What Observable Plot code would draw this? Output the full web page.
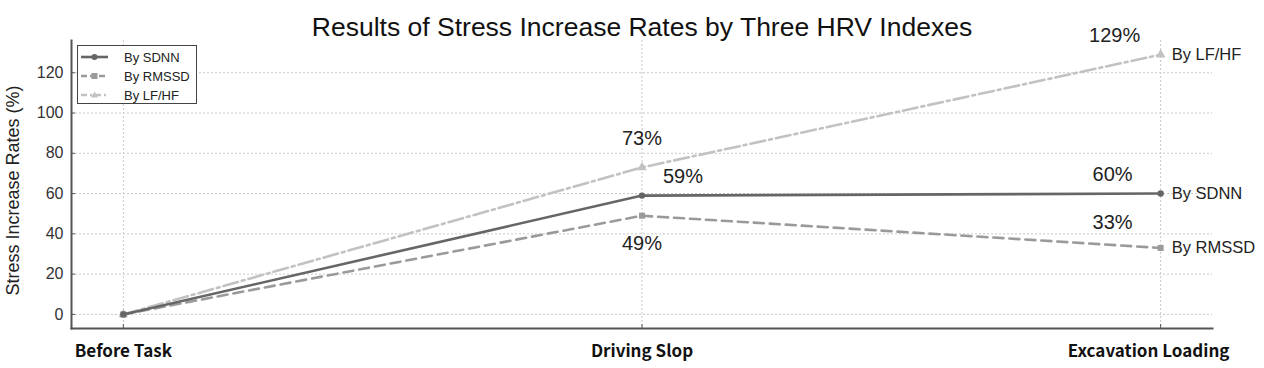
<!DOCTYPE html>
<html>
<head>
<meta charset="utf-8">
<script src="https://cdn.jsdelivr.net/npm/d3@7"></script>
<script src="https://cdn.jsdelivr.net/npm/@observablehq/plot@0.6"></script>
<style>
  html, body { margin: 0; padding: 0; background: #fff; }
  #wrap { position: relative; width: 1264px; height: 368px; font-family: "Liberation Sans", Arial, sans-serif; }
  #legend { position: absolute; left: 77px; top: 45px; width: 120px; height: 59px; border: 1.5px solid #444; background: #fff; box-sizing: border-box; }
  #legend .row { position: absolute; left: 0; height: 16px; display: flex; align-items: center; font-size: 13px; color: #222; }
  #legend svg { margin-left: 3px; margin-right: 16px; }
</style>
</head>
<body>
<div id="wrap"><div id="chart"></div><div id="legend"></div></div>
<script>
// ---- data ----
const stages = ["Before Task", "Driving Slop", "Excavation Loading"];
const seriesNames = ["By SDNN", "By RMSSD", "By LF/HF"];
const sdnn = [0, 59, 60];
const rmssd = [0, 49, 33];
const lfhf = [0, 73, 129];
const yTicks = [0, 20, 40, 60, 80, 100, 120];
const title = "Results of Stress Increase Rates by Three HRV Indexes";
const yLabel = "Stress Increase Rates (%)";

// ---- styles ----
const styles = {
  "By SDNN":  {stroke: "#666666", dash: null, symbol: "circle", r: 3.2},
  "By RMSSD": {stroke: "#9a9a9a", dash: "10,6", symbol: "square", r: 3.4},
  "By LF/HF": {stroke: "#c2c2c2", dash: "15,4,3,4", symbol: "triangle", r: 3.6}
};
const values = {"By SDNN": sdnn, "By RMSSD": rmssd, "By LF/HF": lfhf};

const rows = [];
for (const s of seriesNames) values[s].forEach((v, i) => rows.push({series: s, i, v}));

// percent annotations: [series, index, dx, dy]
const annots = [
  ["By LF/HF", 1, 0, -29],
  ["By SDNN", 1, 41, -19],
  ["By RMSSD", 1, 0, 28],
  ["By LF/HF", 2, -46, -19],
  ["By SDNN", 2, -48, -19],
  ["By RMSSD", 2, -48, -25]
].map(([s, i, dx, dy]) => ({series: s, i, v: values[s][i], dx, dy, label: values[s][i] + "%"}));

const xLabelStyle = {anchor: "bottom", tickSize: 0, tickPadding: 16, tickFormat: i => stages[i], fontSize: 17, fontWeight: "bold", fontFamily: "'Noto Sans CJK KR', 'Noto Sans', sans-serif", fill: "#111", label: null};

const marks = [
  Plot.gridY(yTicks, {stroke: "#c8c8c8", strokeOpacity: 1, strokeDasharray: "2,2", strokeWidth: 1}),
  Plot.gridX([0, 1, 2], {stroke: "#c8c8c8", strokeOpacity: 1, strokeDasharray: "2,2", strokeWidth: 1}),
  Plot.axisY(yTicks, {anchor: "left", tickSize: 0, tickPadding: 8, fontSize: 16, fill: "#333", label: null}),
  Plot.axisY(yTicks, {anchor: "left", tickSize: 4, dx: 4, text: null, stroke: "#555", label: null}),
  Plot.axisX([0, 1], xLabelStyle),
  Plot.axisX([2], {...xLabelStyle, dx: -12}),
  Plot.axisX([0, 1, 2], {anchor: "bottom", tickSize: 4, dy: -4, text: null, stroke: "#555", label: null}),
  Plot.frame({anchor: "left", stroke: "#555", strokeWidth: 2}),
  Plot.frame({anchor: "bottom", stroke: "#555", strokeWidth: 2})
];
for (const s of [...seriesNames].reverse()) {
  const st = styles[s];
  const d = rows.filter(r => r.series === s);
  marks.push(Plot.line(d, {x: "i", y: "v", stroke: st.stroke, strokeWidth: 2.6, strokeDasharray: st.dash}));
  marks.push(Plot.dot(d, {x: "i", y: "v", fill: st.stroke, symbol: st.symbol, r: st.r}));
  const last = d[d.length - 1];
  marks.push(Plot.text([last], {x: "i", y: "v", text: () => s, dx: 11, textAnchor: "start", fontSize: 16.5, fill: "#222"}));
}
for (const a of annots) {
  marks.push(Plot.text([a], {x: "i", y: "v", text: "label", dx: a.dx, dy: a.dy, fontSize: 20, fill: "#222"}));
}
marks.push(Plot.text([title], {frameAnchor: "top", dy: -23, fontSize: 26.5, fill: "#111", text: d => d}));
marks.push(Plot.text([yLabel], {frameAnchor: "left", textAnchor: "middle", rotate: -90, dx: -58, dy: 6, fontSize: 18, fill: "#222", text: d => d}));

const chart = Plot.plot({
  width: 1264,
  height: 368,
  marginLeft: 71,
  marginRight: 52,
  marginTop: 40,
  marginBottom: 40,
  style: {fontFamily: "'Liberation Sans', Arial, sans-serif", background: "#fff", overflow: "visible"},
  x: {type: "linear", domain: [-0.1, 2.1]},
  y: {domain: [-7, 136]},
  marks
});
document.getElementById("chart").appendChild(chart);

// legend
const legend = document.getElementById("legend");
seriesNames.forEach((s, k) => {
  const st = styles[s];
  const row = document.createElement("div");
  row.className = "row";
  row.style.top = (3 + k * 19) + "px";
  const w = 27, h = 12, cy = 6;
  let marker = "";
  if (st.symbol === "circle") marker = `<circle cx="${w/2}" cy="${cy}" r="3" fill="${st.stroke}"/>`;
  else if (st.symbol === "square") marker = `<rect x="${w/2-3}" y="${cy-3}" width="6" height="6" fill="${st.stroke}"/>`;
  else marker = `<path d="M${w/2},${cy-3.5} L${w/2+3.5},${cy+2.5} L${w/2-3.5},${cy+2.5} Z" fill="${st.stroke}"/>`;
  row.innerHTML = `<svg width="${w}" height="${h}"><line x1="0" x2="${w}" y1="${cy}" y2="${cy}" stroke="${st.stroke}" stroke-width="2.6" ${st.dash ? `stroke-dasharray="${st.symbol === 'square' ? '6,3' : '6,3,2,3'}"` : ""}/>${marker}</svg><span>${s}</span>`;
  legend.appendChild(row);
});
</script>
</body>
</html>
